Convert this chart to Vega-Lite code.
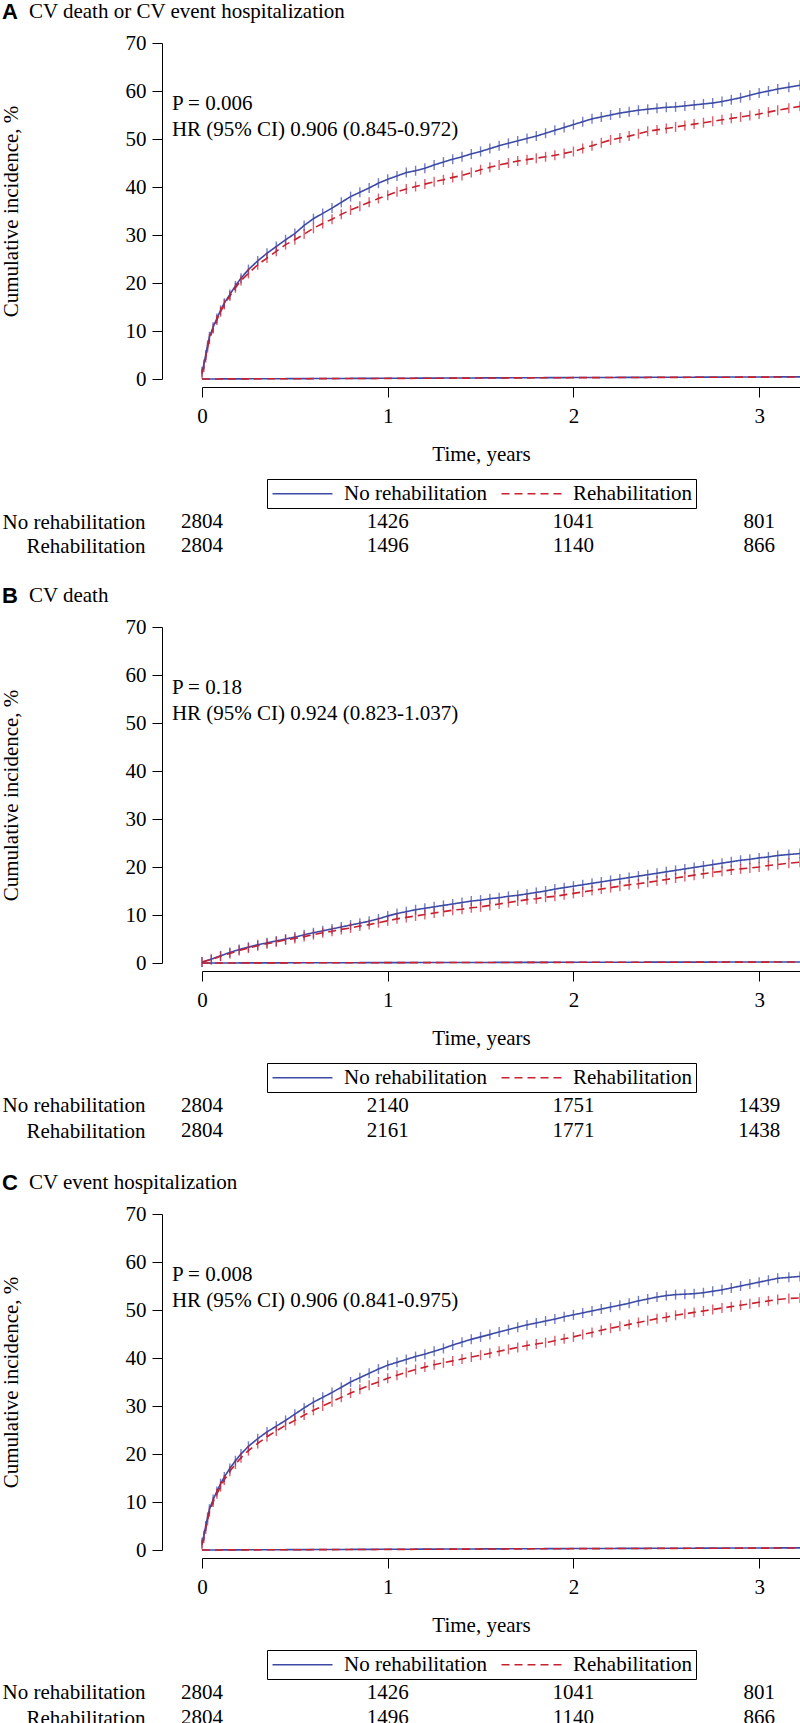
{
  "$schema": "https://vega.github.io/schema/vega-lite/v6.json",
  "padding": {"top": 0, "left": 0, "right": 0, "bottom": 0},
  "background": "white",
  "spacing": 1,
  "config": {
    "view": {"stroke": null},
    "axis": {"domainColor": "black", "tickColor": "black", "labelColor": "black", "titleColor": "black", "labelFont": "Liberation Serif", "titleFont": "Liberation Serif", "labelFontSize": 21, "titleFontSize": 21, "titleFontWeight": "normal", "grid": false, "labelFlush": false},
    "text": {"font": "Liberation Serif", "fontSize": 21, "color": "black"}
  },
  "resolve": {"scale": {"color": "independent", "strokeDash": "independent"}, "legend": {"color": "independent", "strokeDash": "independent"}},
  "datasets": {
    "notes": [
      {"p": "A", "lab": "A", "ttl": "CV death or CV event hospitalization", "pv": "P = 0.006", "hr": "HR (95% CI) 0.906 (0.845-0.972)"},
      {"p": "B", "lab": "B", "ttl": "CV death", "pv": "P = 0.18", "hr": "HR (95% CI) 0.924 (0.823-1.037)"},
      {"p": "C", "lab": "C", "ttl": "CV event hospitalization", "pv": "P = 0.008", "hr": "HR (95% CI) 0.906 (0.841-0.975)"}
    ],
    "risk": [
      {"p": "A", "g": "No rehabilitation", "t": 0, "n": "2804"},
      {"p": "A", "g": "No rehabilitation", "t": 1, "n": "1426"},
      {"p": "A", "g": "No rehabilitation", "t": 2, "n": "1041"},
      {"p": "A", "g": "No rehabilitation", "t": 3, "n": "801"},
      {"p": "A", "g": "Rehabilitation", "t": 0, "n": "2804"},
      {"p": "A", "g": "Rehabilitation", "t": 1, "n": "1496"},
      {"p": "A", "g": "Rehabilitation", "t": 2, "n": "1140"},
      {"p": "A", "g": "Rehabilitation", "t": 3, "n": "866"},
      {"p": "B", "g": "No rehabilitation", "t": 0, "n": "2804"},
      {"p": "B", "g": "No rehabilitation", "t": 1, "n": "2140"},
      {"p": "B", "g": "No rehabilitation", "t": 2, "n": "1751"},
      {"p": "B", "g": "No rehabilitation", "t": 3, "n": "1439"},
      {"p": "B", "g": "Rehabilitation", "t": 0, "n": "2804"},
      {"p": "B", "g": "Rehabilitation", "t": 1, "n": "2161"},
      {"p": "B", "g": "Rehabilitation", "t": 2, "n": "1771"},
      {"p": "B", "g": "Rehabilitation", "t": 3, "n": "1438"},
      {"p": "C", "g": "No rehabilitation", "t": 0, "n": "2804"},
      {"p": "C", "g": "No rehabilitation", "t": 1, "n": "1426"},
      {"p": "C", "g": "No rehabilitation", "t": 2, "n": "1041"},
      {"p": "C", "g": "No rehabilitation", "t": 3, "n": "801"},
      {"p": "C", "g": "Rehabilitation", "t": 0, "n": "2804"},
      {"p": "C", "g": "Rehabilitation", "t": 1, "n": "1496"},
      {"p": "C", "g": "Rehabilitation", "t": 2, "n": "1140"},
      {"p": "C", "g": "Rehabilitation", "t": 3, "n": "866"}
    ],
    "curves": [
      {"p":"A","g":"No rehabilitation","c":"base","t":0,"v":0},
      {"p":"A","g":"No rehabilitation","c":"base","t":1,"v":0.15},
      {"p":"A","g":"No rehabilitation","c":"base","t":2,"v":0.3},
      {"p":"A","g":"No rehabilitation","c":"base","t":3.22,"v":0.45},
      {"p":"A","g":"Rehabilitation","c":"base","t":0,"v":0},
      {"p":"A","g":"Rehabilitation","c":"base","t":1,"v":0.12},
      {"p":"A","g":"Rehabilitation","c":"base","t":2,"v":0.28},
      {"p":"A","g":"Rehabilitation","c":"base","t":3.22,"v":0.42},
      {"p":"B","g":"No rehabilitation","c":"base","t":0,"v":0},
      {"p":"B","g":"No rehabilitation","c":"base","t":1,"v":0.08},
      {"p":"B","g":"No rehabilitation","c":"base","t":2,"v":0.15},
      {"p":"B","g":"No rehabilitation","c":"base","t":3.22,"v":0.22},
      {"p":"B","g":"Rehabilitation","c":"base","t":0,"v":0},
      {"p":"B","g":"Rehabilitation","c":"base","t":1,"v":0.07},
      {"p":"B","g":"Rehabilitation","c":"base","t":2,"v":0.14},
      {"p":"B","g":"Rehabilitation","c":"base","t":3.22,"v":0.2},
      {"p":"C","g":"No rehabilitation","c":"base","t":0,"v":0},
      {"p":"C","g":"No rehabilitation","c":"base","t":1,"v":0.15},
      {"p":"C","g":"No rehabilitation","c":"base","t":2,"v":0.3},
      {"p":"C","g":"No rehabilitation","c":"base","t":3.22,"v":0.45},
      {"p":"C","g":"Rehabilitation","c":"base","t":0,"v":0},
      {"p":"C","g":"Rehabilitation","c":"base","t":1,"v":0.12},
      {"p":"C","g":"Rehabilitation","c":"base","t":2,"v":0.28},
      {"p":"C","g":"Rehabilitation","c":"base","t":3.22,"v":0.42},

      {"p":"A","g":"No rehabilitation","c":"main","t":0,"v":1.5},
      {"p":"A","g":"No rehabilitation","c":"main","t":0.01,"v":3.0},
      {"p":"A","g":"No rehabilitation","c":"main","t":0.02,"v":5.0},
      {"p":"A","g":"No rehabilitation","c":"main","t":0.03,"v":7.0},
      {"p":"A","g":"No rehabilitation","c":"main","t":0.04,"v":8.8},
      {"p":"A","g":"No rehabilitation","c":"main","t":0.06,"v":10.8},
      {"p":"A","g":"No rehabilitation","c":"main","t":0.08,"v":12.6},
      {"p":"A","g":"No rehabilitation","c":"main","t":0.10,"v":14.3},
      {"p":"A","g":"No rehabilitation","c":"main","t":0.12,"v":15.8},
      {"p":"A","g":"No rehabilitation","c":"main","t":0.15,"v":17.6},
      {"p":"A","g":"No rehabilitation","c":"main","t":0.18,"v":19.4},
      {"p":"A","g":"No rehabilitation","c":"main","t":0.21,"v":21.0},
      {"p":"A","g":"No rehabilitation","c":"main","t":0.25,"v":22.8},
      {"p":"A","g":"No rehabilitation","c":"main","t":0.30,"v":24.6},
      {"p":"A","g":"No rehabilitation","c":"main","t":0.35,"v":26.2},
      {"p":"A","g":"No rehabilitation","c":"main","t":0.40,"v":27.6},
      {"p":"A","g":"No rehabilitation","c":"main","t":0.45,"v":29.0},
      {"p":"A","g":"No rehabilitation","c":"main","t":0.50,"v":30.3},
      {"p":"A","g":"No rehabilitation","c":"main","t":0.55,"v":32.0},
      {"p":"A","g":"No rehabilitation","c":"main","t":0.60,"v":33.4},
      {"p":"A","g":"No rehabilitation","c":"main","t":0.65,"v":34.5},
      {"p":"A","g":"No rehabilitation","c":"main","t":0.70,"v":35.6},
      {"p":"A","g":"No rehabilitation","c":"main","t":0.75,"v":36.8},
      {"p":"A","g":"No rehabilitation","c":"main","t":0.80,"v":38.0},
      {"p":"A","g":"No rehabilitation","c":"main","t":0.85,"v":38.9},
      {"p":"A","g":"No rehabilitation","c":"main","t":0.90,"v":39.8},
      {"p":"A","g":"No rehabilitation","c":"main","t":0.95,"v":40.8},
      {"p":"A","g":"No rehabilitation","c":"main","t":1.00,"v":41.6},
      {"p":"A","g":"No rehabilitation","c":"main","t":1.05,"v":42.3},
      {"p":"A","g":"No rehabilitation","c":"main","t":1.10,"v":43.0},
      {"p":"A","g":"No rehabilitation","c":"main","t":1.15,"v":43.4},
      {"p":"A","g":"No rehabilitation","c":"main","t":1.20,"v":43.9},
      {"p":"A","g":"No rehabilitation","c":"main","t":1.25,"v":44.6},
      {"p":"A","g":"No rehabilitation","c":"main","t":1.30,"v":45.2},
      {"p":"A","g":"No rehabilitation","c":"main","t":1.35,"v":45.8},
      {"p":"A","g":"No rehabilitation","c":"main","t":1.40,"v":46.3},
      {"p":"A","g":"No rehabilitation","c":"main","t":1.45,"v":46.9},
      {"p":"A","g":"No rehabilitation","c":"main","t":1.50,"v":47.4},
      {"p":"A","g":"No rehabilitation","c":"main","t":1.55,"v":48.0},
      {"p":"A","g":"No rehabilitation","c":"main","t":1.60,"v":48.6},
      {"p":"A","g":"No rehabilitation","c":"main","t":1.65,"v":49.1},
      {"p":"A","g":"No rehabilitation","c":"main","t":1.70,"v":49.6},
      {"p":"A","g":"No rehabilitation","c":"main","t":1.75,"v":50.1},
      {"p":"A","g":"No rehabilitation","c":"main","t":1.80,"v":50.6},
      {"p":"A","g":"No rehabilitation","c":"main","t":1.85,"v":51.2},
      {"p":"A","g":"No rehabilitation","c":"main","t":1.90,"v":51.8},
      {"p":"A","g":"No rehabilitation","c":"main","t":1.95,"v":52.4},
      {"p":"A","g":"No rehabilitation","c":"main","t":2.00,"v":53.0},
      {"p":"A","g":"No rehabilitation","c":"main","t":2.05,"v":53.6},
      {"p":"A","g":"No rehabilitation","c":"main","t":2.10,"v":54.2},
      {"p":"A","g":"No rehabilitation","c":"main","t":2.15,"v":54.6},
      {"p":"A","g":"No rehabilitation","c":"main","t":2.20,"v":55.0},
      {"p":"A","g":"No rehabilitation","c":"main","t":2.25,"v":55.4},
      {"p":"A","g":"No rehabilitation","c":"main","t":2.30,"v":55.7},
      {"p":"A","g":"No rehabilitation","c":"main","t":2.35,"v":56.0},
      {"p":"A","g":"No rehabilitation","c":"main","t":2.40,"v":56.2},
      {"p":"A","g":"No rehabilitation","c":"main","t":2.45,"v":56.4},
      {"p":"A","g":"No rehabilitation","c":"main","t":2.50,"v":56.6},
      {"p":"A","g":"No rehabilitation","c":"main","t":2.55,"v":56.7},
      {"p":"A","g":"No rehabilitation","c":"main","t":2.60,"v":56.9},
      {"p":"A","g":"No rehabilitation","c":"main","t":2.65,"v":57.1},
      {"p":"A","g":"No rehabilitation","c":"main","t":2.70,"v":57.3},
      {"p":"A","g":"No rehabilitation","c":"main","t":2.75,"v":57.5},
      {"p":"A","g":"No rehabilitation","c":"main","t":2.80,"v":57.8},
      {"p":"A","g":"No rehabilitation","c":"main","t":2.85,"v":58.2},
      {"p":"A","g":"No rehabilitation","c":"main","t":2.90,"v":58.6},
      {"p":"A","g":"No rehabilitation","c":"main","t":2.95,"v":59.1},
      {"p":"A","g":"No rehabilitation","c":"main","t":3.00,"v":59.6},
      {"p":"A","g":"No rehabilitation","c":"main","t":3.05,"v":60.0},
      {"p":"A","g":"No rehabilitation","c":"main","t":3.10,"v":60.4},
      {"p":"A","g":"No rehabilitation","c":"main","t":3.16,"v":60.8},
      {"p":"A","g":"No rehabilitation","c":"main","t":3.22,"v":61.2},

      {"p":"A","g":"Rehabilitation","c":"main","t":0,"v":1.1},
      {"p":"A","g":"Rehabilitation","c":"main","t":0.01,"v":2.5},
      {"p":"A","g":"Rehabilitation","c":"main","t":0.02,"v":4.5},
      {"p":"A","g":"Rehabilitation","c":"main","t":0.03,"v":6.5},
      {"p":"A","g":"Rehabilitation","c":"main","t":0.04,"v":8.3},
      {"p":"A","g":"Rehabilitation","c":"main","t":0.06,"v":10.5},
      {"p":"A","g":"Rehabilitation","c":"main","t":0.08,"v":12.3},
      {"p":"A","g":"Rehabilitation","c":"main","t":0.10,"v":14.0},
      {"p":"A","g":"Rehabilitation","c":"main","t":0.12,"v":15.5},
      {"p":"A","g":"Rehabilitation","c":"main","t":0.15,"v":17.3},
      {"p":"A","g":"Rehabilitation","c":"main","t":0.18,"v":19.0},
      {"p":"A","g":"Rehabilitation","c":"main","t":0.21,"v":20.5},
      {"p":"A","g":"Rehabilitation","c":"main","t":0.25,"v":22.0},
      {"p":"A","g":"Rehabilitation","c":"main","t":0.30,"v":23.8},
      {"p":"A","g":"Rehabilitation","c":"main","t":0.35,"v":25.2},
      {"p":"A","g":"Rehabilitation","c":"main","t":0.40,"v":26.6},
      {"p":"A","g":"Rehabilitation","c":"main","t":0.45,"v":28.0},
      {"p":"A","g":"Rehabilitation","c":"main","t":0.50,"v":29.0},
      {"p":"A","g":"Rehabilitation","c":"main","t":0.55,"v":30.2},
      {"p":"A","g":"Rehabilitation","c":"main","t":0.60,"v":31.4},
      {"p":"A","g":"Rehabilitation","c":"main","t":0.65,"v":32.4},
      {"p":"A","g":"Rehabilitation","c":"main","t":0.70,"v":33.3},
      {"p":"A","g":"Rehabilitation","c":"main","t":0.75,"v":34.3},
      {"p":"A","g":"Rehabilitation","c":"main","t":0.80,"v":35.2},
      {"p":"A","g":"Rehabilitation","c":"main","t":0.85,"v":36.0},
      {"p":"A","g":"Rehabilitation","c":"main","t":0.90,"v":36.8},
      {"p":"A","g":"Rehabilitation","c":"main","t":0.95,"v":37.6},
      {"p":"A","g":"Rehabilitation","c":"main","t":1.00,"v":38.3},
      {"p":"A","g":"Rehabilitation","c":"main","t":1.05,"v":39.0},
      {"p":"A","g":"Rehabilitation","c":"main","t":1.10,"v":39.6},
      {"p":"A","g":"Rehabilitation","c":"main","t":1.15,"v":40.1},
      {"p":"A","g":"Rehabilitation","c":"main","t":1.20,"v":40.6},
      {"p":"A","g":"Rehabilitation","c":"main","t":1.25,"v":41.1},
      {"p":"A","g":"Rehabilitation","c":"main","t":1.30,"v":41.5},
      {"p":"A","g":"Rehabilitation","c":"main","t":1.35,"v":42.0},
      {"p":"A","g":"Rehabilitation","c":"main","t":1.40,"v":42.4},
      {"p":"A","g":"Rehabilitation","c":"main","t":1.45,"v":43.0},
      {"p":"A","g":"Rehabilitation","c":"main","t":1.50,"v":43.6},
      {"p":"A","g":"Rehabilitation","c":"main","t":1.55,"v":44.1},
      {"p":"A","g":"Rehabilitation","c":"main","t":1.60,"v":44.6},
      {"p":"A","g":"Rehabilitation","c":"main","t":1.65,"v":45.0},
      {"p":"A","g":"Rehabilitation","c":"main","t":1.70,"v":45.4},
      {"p":"A","g":"Rehabilitation","c":"main","t":1.75,"v":45.7},
      {"p":"A","g":"Rehabilitation","c":"main","t":1.80,"v":46.0},
      {"p":"A","g":"Rehabilitation","c":"main","t":1.85,"v":46.3},
      {"p":"A","g":"Rehabilitation","c":"main","t":1.90,"v":46.6},
      {"p":"A","g":"Rehabilitation","c":"main","t":1.95,"v":47.0},
      {"p":"A","g":"Rehabilitation","c":"main","t":2.00,"v":47.4},
      {"p":"A","g":"Rehabilitation","c":"main","t":2.05,"v":48.0},
      {"p":"A","g":"Rehabilitation","c":"main","t":2.10,"v":48.6},
      {"p":"A","g":"Rehabilitation","c":"main","t":2.15,"v":49.2},
      {"p":"A","g":"Rehabilitation","c":"main","t":2.20,"v":49.8},
      {"p":"A","g":"Rehabilitation","c":"main","t":2.25,"v":50.2},
      {"p":"A","g":"Rehabilitation","c":"main","t":2.30,"v":50.6},
      {"p":"A","g":"Rehabilitation","c":"main","t":2.35,"v":51.1},
      {"p":"A","g":"Rehabilitation","c":"main","t":2.40,"v":51.6},
      {"p":"A","g":"Rehabilitation","c":"main","t":2.45,"v":51.9},
      {"p":"A","g":"Rehabilitation","c":"main","t":2.50,"v":52.2},
      {"p":"A","g":"Rehabilitation","c":"main","t":2.55,"v":52.5},
      {"p":"A","g":"Rehabilitation","c":"main","t":2.60,"v":52.8},
      {"p":"A","g":"Rehabilitation","c":"main","t":2.65,"v":53.1},
      {"p":"A","g":"Rehabilitation","c":"main","t":2.70,"v":53.4},
      {"p":"A","g":"Rehabilitation","c":"main","t":2.75,"v":53.7},
      {"p":"A","g":"Rehabilitation","c":"main","t":2.80,"v":54.0},
      {"p":"A","g":"Rehabilitation","c":"main","t":2.85,"v":54.3},
      {"p":"A","g":"Rehabilitation","c":"main","t":2.90,"v":54.6},
      {"p":"A","g":"Rehabilitation","c":"main","t":2.95,"v":54.9},
      {"p":"A","g":"Rehabilitation","c":"main","t":3.00,"v":55.2},
      {"p":"A","g":"Rehabilitation","c":"main","t":3.05,"v":55.6},
      {"p":"A","g":"Rehabilitation","c":"main","t":3.10,"v":56.0},
      {"p":"A","g":"Rehabilitation","c":"main","t":3.16,"v":56.4},
      {"p":"A","g":"Rehabilitation","c":"main","t":3.22,"v":56.8},

      {"p":"B","g":"No rehabilitation","c":"main","t":0,"v":0.2},
      {"p":"B","g":"No rehabilitation","c":"main","t":0.05,"v":0.8},
      {"p":"B","g":"No rehabilitation","c":"main","t":0.10,"v":1.5},
      {"p":"B","g":"No rehabilitation","c":"main","t":0.15,"v":2.2},
      {"p":"B","g":"No rehabilitation","c":"main","t":0.20,"v":2.8},
      {"p":"B","g":"No rehabilitation","c":"main","t":0.25,"v":3.3},
      {"p":"B","g":"No rehabilitation","c":"main","t":0.30,"v":3.8},
      {"p":"B","g":"No rehabilitation","c":"main","t":0.35,"v":4.2},
      {"p":"B","g":"No rehabilitation","c":"main","t":0.40,"v":4.6},
      {"p":"B","g":"No rehabilitation","c":"main","t":0.45,"v":5.0},
      {"p":"B","g":"No rehabilitation","c":"main","t":0.50,"v":5.4},
      {"p":"B","g":"No rehabilitation","c":"main","t":0.55,"v":5.9},
      {"p":"B","g":"No rehabilitation","c":"main","t":0.60,"v":6.3},
      {"p":"B","g":"No rehabilitation","c":"main","t":0.65,"v":6.7},
      {"p":"B","g":"No rehabilitation","c":"main","t":0.70,"v":7.1},
      {"p":"B","g":"No rehabilitation","c":"main","t":0.75,"v":7.5},
      {"p":"B","g":"No rehabilitation","c":"main","t":0.80,"v":7.9},
      {"p":"B","g":"No rehabilitation","c":"main","t":0.85,"v":8.3},
      {"p":"B","g":"No rehabilitation","c":"main","t":0.90,"v":8.7},
      {"p":"B","g":"No rehabilitation","c":"main","t":0.95,"v":9.2},
      {"p":"B","g":"No rehabilitation","c":"main","t":1.00,"v":9.8},
      {"p":"B","g":"No rehabilitation","c":"main","t":1.05,"v":10.3},
      {"p":"B","g":"No rehabilitation","c":"main","t":1.10,"v":10.7},
      {"p":"B","g":"No rehabilitation","c":"main","t":1.15,"v":11.1},
      {"p":"B","g":"No rehabilitation","c":"main","t":1.20,"v":11.4},
      {"p":"B","g":"No rehabilitation","c":"main","t":1.25,"v":11.7},
      {"p":"B","g":"No rehabilitation","c":"main","t":1.30,"v":12.0},
      {"p":"B","g":"No rehabilitation","c":"main","t":1.35,"v":12.3},
      {"p":"B","g":"No rehabilitation","c":"main","t":1.40,"v":12.6},
      {"p":"B","g":"No rehabilitation","c":"main","t":1.45,"v":12.9},
      {"p":"B","g":"No rehabilitation","c":"main","t":1.50,"v":13.1},
      {"p":"B","g":"No rehabilitation","c":"main","t":1.55,"v":13.4},
      {"p":"B","g":"No rehabilitation","c":"main","t":1.60,"v":13.6},
      {"p":"B","g":"No rehabilitation","c":"main","t":1.65,"v":13.9},
      {"p":"B","g":"No rehabilitation","c":"main","t":1.70,"v":14.1},
      {"p":"B","g":"No rehabilitation","c":"main","t":1.75,"v":14.4},
      {"p":"B","g":"No rehabilitation","c":"main","t":1.80,"v":14.7},
      {"p":"B","g":"No rehabilitation","c":"main","t":1.85,"v":15.0},
      {"p":"B","g":"No rehabilitation","c":"main","t":1.90,"v":15.4},
      {"p":"B","g":"No rehabilitation","c":"main","t":1.95,"v":15.7},
      {"p":"B","g":"No rehabilitation","c":"main","t":2.00,"v":16.0},
      {"p":"B","g":"No rehabilitation","c":"main","t":2.05,"v":16.3},
      {"p":"B","g":"No rehabilitation","c":"main","t":2.10,"v":16.6},
      {"p":"B","g":"No rehabilitation","c":"main","t":2.15,"v":16.9},
      {"p":"B","g":"No rehabilitation","c":"main","t":2.20,"v":17.2},
      {"p":"B","g":"No rehabilitation","c":"main","t":2.25,"v":17.5},
      {"p":"B","g":"No rehabilitation","c":"main","t":2.30,"v":17.8},
      {"p":"B","g":"No rehabilitation","c":"main","t":2.35,"v":18.1},
      {"p":"B","g":"No rehabilitation","c":"main","t":2.40,"v":18.4},
      {"p":"B","g":"No rehabilitation","c":"main","t":2.45,"v":18.7},
      {"p":"B","g":"No rehabilitation","c":"main","t":2.50,"v":19.0},
      {"p":"B","g":"No rehabilitation","c":"main","t":2.55,"v":19.3},
      {"p":"B","g":"No rehabilitation","c":"main","t":2.60,"v":19.6},
      {"p":"B","g":"No rehabilitation","c":"main","t":2.65,"v":19.9},
      {"p":"B","g":"No rehabilitation","c":"main","t":2.70,"v":20.2},
      {"p":"B","g":"No rehabilitation","c":"main","t":2.75,"v":20.5},
      {"p":"B","g":"No rehabilitation","c":"main","t":2.80,"v":20.8},
      {"p":"B","g":"No rehabilitation","c":"main","t":2.85,"v":21.1},
      {"p":"B","g":"No rehabilitation","c":"main","t":2.90,"v":21.4},
      {"p":"B","g":"No rehabilitation","c":"main","t":2.95,"v":21.6},
      {"p":"B","g":"No rehabilitation","c":"main","t":3.00,"v":21.9},
      {"p":"B","g":"No rehabilitation","c":"main","t":3.05,"v":22.1},
      {"p":"B","g":"No rehabilitation","c":"main","t":3.10,"v":22.4},
      {"p":"B","g":"No rehabilitation","c":"main","t":3.16,"v":22.6},
      {"p":"B","g":"No rehabilitation","c":"main","t":3.22,"v":22.8},

      {"p":"B","g":"Rehabilitation","c":"main","t":0,"v":0.2},
      {"p":"B","g":"Rehabilitation","c":"main","t":0.05,"v":0.7},
      {"p":"B","g":"Rehabilitation","c":"main","t":0.10,"v":1.4},
      {"p":"B","g":"Rehabilitation","c":"main","t":0.15,"v":2.0},
      {"p":"B","g":"Rehabilitation","c":"main","t":0.20,"v":2.6},
      {"p":"B","g":"Rehabilitation","c":"main","t":0.25,"v":3.1},
      {"p":"B","g":"Rehabilitation","c":"main","t":0.30,"v":3.6},
      {"p":"B","g":"Rehabilitation","c":"main","t":0.35,"v":4.0},
      {"p":"B","g":"Rehabilitation","c":"main","t":0.40,"v":4.4},
      {"p":"B","g":"Rehabilitation","c":"main","t":0.45,"v":4.8},
      {"p":"B","g":"Rehabilitation","c":"main","t":0.50,"v":5.1},
      {"p":"B","g":"Rehabilitation","c":"main","t":0.55,"v":5.5},
      {"p":"B","g":"Rehabilitation","c":"main","t":0.60,"v":5.9},
      {"p":"B","g":"Rehabilitation","c":"main","t":0.65,"v":6.3},
      {"p":"B","g":"Rehabilitation","c":"main","t":0.70,"v":6.6},
      {"p":"B","g":"Rehabilitation","c":"main","t":0.75,"v":7.0},
      {"p":"B","g":"Rehabilitation","c":"main","t":0.80,"v":7.3},
      {"p":"B","g":"Rehabilitation","c":"main","t":0.85,"v":7.7},
      {"p":"B","g":"Rehabilitation","c":"main","t":0.90,"v":8.0},
      {"p":"B","g":"Rehabilitation","c":"main","t":0.95,"v":8.4},
      {"p":"B","g":"Rehabilitation","c":"main","t":1.00,"v":8.8},
      {"p":"B","g":"Rehabilitation","c":"main","t":1.05,"v":9.2},
      {"p":"B","g":"Rehabilitation","c":"main","t":1.10,"v":9.5},
      {"p":"B","g":"Rehabilitation","c":"main","t":1.15,"v":9.8},
      {"p":"B","g":"Rehabilitation","c":"main","t":1.20,"v":10.1},
      {"p":"B","g":"Rehabilitation","c":"main","t":1.25,"v":10.4},
      {"p":"B","g":"Rehabilitation","c":"main","t":1.30,"v":10.7},
      {"p":"B","g":"Rehabilitation","c":"main","t":1.35,"v":11.0},
      {"p":"B","g":"Rehabilitation","c":"main","t":1.40,"v":11.2},
      {"p":"B","g":"Rehabilitation","c":"main","t":1.45,"v":11.5},
      {"p":"B","g":"Rehabilitation","c":"main","t":1.50,"v":11.7},
      {"p":"B","g":"Rehabilitation","c":"main","t":1.55,"v":12.0},
      {"p":"B","g":"Rehabilitation","c":"main","t":1.60,"v":12.3},
      {"p":"B","g":"Rehabilitation","c":"main","t":1.65,"v":12.6},
      {"p":"B","g":"Rehabilitation","c":"main","t":1.70,"v":12.9},
      {"p":"B","g":"Rehabilitation","c":"main","t":1.75,"v":13.2},
      {"p":"B","g":"Rehabilitation","c":"main","t":1.80,"v":13.4},
      {"p":"B","g":"Rehabilitation","c":"main","t":1.85,"v":13.7},
      {"p":"B","g":"Rehabilitation","c":"main","t":1.90,"v":13.9},
      {"p":"B","g":"Rehabilitation","c":"main","t":1.95,"v":14.2},
      {"p":"B","g":"Rehabilitation","c":"main","t":2.00,"v":14.5},
      {"p":"B","g":"Rehabilitation","c":"main","t":2.05,"v":14.8},
      {"p":"B","g":"Rehabilitation","c":"main","t":2.10,"v":15.1},
      {"p":"B","g":"Rehabilitation","c":"main","t":2.15,"v":15.4},
      {"p":"B","g":"Rehabilitation","c":"main","t":2.20,"v":15.7},
      {"p":"B","g":"Rehabilitation","c":"main","t":2.25,"v":16.0},
      {"p":"B","g":"Rehabilitation","c":"main","t":2.30,"v":16.3},
      {"p":"B","g":"Rehabilitation","c":"main","t":2.35,"v":16.5},
      {"p":"B","g":"Rehabilitation","c":"main","t":2.40,"v":16.8},
      {"p":"B","g":"Rehabilitation","c":"main","t":2.45,"v":17.1},
      {"p":"B","g":"Rehabilitation","c":"main","t":2.50,"v":17.4},
      {"p":"B","g":"Rehabilitation","c":"main","t":2.55,"v":17.7},
      {"p":"B","g":"Rehabilitation","c":"main","t":2.60,"v":18.0},
      {"p":"B","g":"Rehabilitation","c":"main","t":2.65,"v":18.3},
      {"p":"B","g":"Rehabilitation","c":"main","t":2.70,"v":18.6},
      {"p":"B","g":"Rehabilitation","c":"main","t":2.75,"v":18.9},
      {"p":"B","g":"Rehabilitation","c":"main","t":2.80,"v":19.1},
      {"p":"B","g":"Rehabilitation","c":"main","t":2.85,"v":19.4},
      {"p":"B","g":"Rehabilitation","c":"main","t":2.90,"v":19.6},
      {"p":"B","g":"Rehabilitation","c":"main","t":2.95,"v":19.8},
      {"p":"B","g":"Rehabilitation","c":"main","t":3.00,"v":20.0},
      {"p":"B","g":"Rehabilitation","c":"main","t":3.05,"v":20.3},
      {"p":"B","g":"Rehabilitation","c":"main","t":3.10,"v":20.5},
      {"p":"B","g":"Rehabilitation","c":"main","t":3.16,"v":20.8},
      {"p":"B","g":"Rehabilitation","c":"main","t":3.22,"v":21.0},

      {"p":"C","g":"No rehabilitation","c":"main","t":0,"v":1.5},
      {"p":"C","g":"No rehabilitation","c":"main","t":0.01,"v":3.0},
      {"p":"C","g":"No rehabilitation","c":"main","t":0.02,"v":5.0},
      {"p":"C","g":"No rehabilitation","c":"main","t":0.03,"v":6.8},
      {"p":"C","g":"No rehabilitation","c":"main","t":0.04,"v":8.5},
      {"p":"C","g":"No rehabilitation","c":"main","t":0.06,"v":10.5},
      {"p":"C","g":"No rehabilitation","c":"main","t":0.08,"v":12.2},
      {"p":"C","g":"No rehabilitation","c":"main","t":0.10,"v":13.8},
      {"p":"C","g":"No rehabilitation","c":"main","t":0.12,"v":15.2},
      {"p":"C","g":"No rehabilitation","c":"main","t":0.15,"v":17.0},
      {"p":"C","g":"No rehabilitation","c":"main","t":0.18,"v":18.6},
      {"p":"C","g":"No rehabilitation","c":"main","t":0.21,"v":20.0},
      {"p":"C","g":"No rehabilitation","c":"main","t":0.25,"v":21.6},
      {"p":"C","g":"No rehabilitation","c":"main","t":0.30,"v":23.2},
      {"p":"C","g":"No rehabilitation","c":"main","t":0.35,"v":24.6},
      {"p":"C","g":"No rehabilitation","c":"main","t":0.40,"v":25.8},
      {"p":"C","g":"No rehabilitation","c":"main","t":0.45,"v":27.0},
      {"p":"C","g":"No rehabilitation","c":"main","t":0.50,"v":28.3},
      {"p":"C","g":"No rehabilitation","c":"main","t":0.55,"v":29.6},
      {"p":"C","g":"No rehabilitation","c":"main","t":0.60,"v":30.8},
      {"p":"C","g":"No rehabilitation","c":"main","t":0.65,"v":31.8},
      {"p":"C","g":"No rehabilitation","c":"main","t":0.70,"v":32.8},
      {"p":"C","g":"No rehabilitation","c":"main","t":0.75,"v":33.9},
      {"p":"C","g":"No rehabilitation","c":"main","t":0.80,"v":35.0},
      {"p":"C","g":"No rehabilitation","c":"main","t":0.85,"v":35.9},
      {"p":"C","g":"No rehabilitation","c":"main","t":0.90,"v":36.8},
      {"p":"C","g":"No rehabilitation","c":"main","t":0.95,"v":37.7},
      {"p":"C","g":"No rehabilitation","c":"main","t":1.00,"v":38.5},
      {"p":"C","g":"No rehabilitation","c":"main","t":1.05,"v":39.1},
      {"p":"C","g":"No rehabilitation","c":"main","t":1.10,"v":39.7},
      {"p":"C","g":"No rehabilitation","c":"main","t":1.15,"v":40.3},
      {"p":"C","g":"No rehabilitation","c":"main","t":1.20,"v":40.8},
      {"p":"C","g":"No rehabilitation","c":"main","t":1.25,"v":41.4},
      {"p":"C","g":"No rehabilitation","c":"main","t":1.30,"v":42.0},
      {"p":"C","g":"No rehabilitation","c":"main","t":1.35,"v":42.7},
      {"p":"C","g":"No rehabilitation","c":"main","t":1.40,"v":43.3},
      {"p":"C","g":"No rehabilitation","c":"main","t":1.45,"v":43.9},
      {"p":"C","g":"No rehabilitation","c":"main","t":1.50,"v":44.4},
      {"p":"C","g":"No rehabilitation","c":"main","t":1.55,"v":44.9},
      {"p":"C","g":"No rehabilitation","c":"main","t":1.60,"v":45.4},
      {"p":"C","g":"No rehabilitation","c":"main","t":1.65,"v":45.9},
      {"p":"C","g":"No rehabilitation","c":"main","t":1.70,"v":46.4},
      {"p":"C","g":"No rehabilitation","c":"main","t":1.75,"v":46.9},
      {"p":"C","g":"No rehabilitation","c":"main","t":1.80,"v":47.3},
      {"p":"C","g":"No rehabilitation","c":"main","t":1.85,"v":47.7},
      {"p":"C","g":"No rehabilitation","c":"main","t":1.90,"v":48.1},
      {"p":"C","g":"No rehabilitation","c":"main","t":1.95,"v":48.6},
      {"p":"C","g":"No rehabilitation","c":"main","t":2.00,"v":49.0},
      {"p":"C","g":"No rehabilitation","c":"main","t":2.05,"v":49.4},
      {"p":"C","g":"No rehabilitation","c":"main","t":2.10,"v":49.8},
      {"p":"C","g":"No rehabilitation","c":"main","t":2.15,"v":50.2},
      {"p":"C","g":"No rehabilitation","c":"main","t":2.20,"v":50.6},
      {"p":"C","g":"No rehabilitation","c":"main","t":2.25,"v":51.0},
      {"p":"C","g":"No rehabilitation","c":"main","t":2.30,"v":51.4},
      {"p":"C","g":"No rehabilitation","c":"main","t":2.35,"v":51.9},
      {"p":"C","g":"No rehabilitation","c":"main","t":2.40,"v":52.3},
      {"p":"C","g":"No rehabilitation","c":"main","t":2.45,"v":52.7},
      {"p":"C","g":"No rehabilitation","c":"main","t":2.50,"v":53.0},
      {"p":"C","g":"No rehabilitation","c":"main","t":2.55,"v":53.2},
      {"p":"C","g":"No rehabilitation","c":"main","t":2.60,"v":53.3},
      {"p":"C","g":"No rehabilitation","c":"main","t":2.65,"v":53.4},
      {"p":"C","g":"No rehabilitation","c":"main","t":2.70,"v":53.6},
      {"p":"C","g":"No rehabilitation","c":"main","t":2.75,"v":53.9},
      {"p":"C","g":"No rehabilitation","c":"main","t":2.80,"v":54.2},
      {"p":"C","g":"No rehabilitation","c":"main","t":2.85,"v":54.6},
      {"p":"C","g":"No rehabilitation","c":"main","t":2.90,"v":55.0},
      {"p":"C","g":"No rehabilitation","c":"main","t":2.95,"v":55.4},
      {"p":"C","g":"No rehabilitation","c":"main","t":3.00,"v":55.8},
      {"p":"C","g":"No rehabilitation","c":"main","t":3.05,"v":56.2},
      {"p":"C","g":"No rehabilitation","c":"main","t":3.10,"v":56.6},
      {"p":"C","g":"No rehabilitation","c":"main","t":3.16,"v":56.8},
      {"p":"C","g":"No rehabilitation","c":"main","t":3.22,"v":57.0},

      {"p":"C","g":"Rehabilitation","c":"main","t":0,"v":1.1},
      {"p":"C","g":"Rehabilitation","c":"main","t":0.01,"v":2.5},
      {"p":"C","g":"Rehabilitation","c":"main","t":0.02,"v":4.4},
      {"p":"C","g":"Rehabilitation","c":"main","t":0.03,"v":6.2},
      {"p":"C","g":"Rehabilitation","c":"main","t":0.04,"v":8.0},
      {"p":"C","g":"Rehabilitation","c":"main","t":0.06,"v":10.0},
      {"p":"C","g":"Rehabilitation","c":"main","t":0.08,"v":11.7},
      {"p":"C","g":"Rehabilitation","c":"main","t":0.10,"v":13.2},
      {"p":"C","g":"Rehabilitation","c":"main","t":0.12,"v":14.6},
      {"p":"C","g":"Rehabilitation","c":"main","t":0.15,"v":16.4},
      {"p":"C","g":"Rehabilitation","c":"main","t":0.18,"v":17.9},
      {"p":"C","g":"Rehabilitation","c":"main","t":0.21,"v":19.2},
      {"p":"C","g":"Rehabilitation","c":"main","t":0.25,"v":20.7},
      {"p":"C","g":"Rehabilitation","c":"main","t":0.30,"v":22.2},
      {"p":"C","g":"Rehabilitation","c":"main","t":0.35,"v":23.6},
      {"p":"C","g":"Rehabilitation","c":"main","t":0.40,"v":24.8},
      {"p":"C","g":"Rehabilitation","c":"main","t":0.45,"v":26.0},
      {"p":"C","g":"Rehabilitation","c":"main","t":0.50,"v":27.0},
      {"p":"C","g":"Rehabilitation","c":"main","t":0.55,"v":28.1},
      {"p":"C","g":"Rehabilitation","c":"main","t":0.60,"v":29.1},
      {"p":"C","g":"Rehabilitation","c":"main","t":0.65,"v":30.0},
      {"p":"C","g":"Rehabilitation","c":"main","t":0.70,"v":30.9},
      {"p":"C","g":"Rehabilitation","c":"main","t":0.75,"v":31.8},
      {"p":"C","g":"Rehabilitation","c":"main","t":0.80,"v":32.7},
      {"p":"C","g":"Rehabilitation","c":"main","t":0.85,"v":33.5},
      {"p":"C","g":"Rehabilitation","c":"main","t":0.90,"v":34.3},
      {"p":"C","g":"Rehabilitation","c":"main","t":0.95,"v":35.0},
      {"p":"C","g":"Rehabilitation","c":"main","t":1.00,"v":35.8},
      {"p":"C","g":"Rehabilitation","c":"main","t":1.05,"v":36.4},
      {"p":"C","g":"Rehabilitation","c":"main","t":1.10,"v":37.0},
      {"p":"C","g":"Rehabilitation","c":"main","t":1.15,"v":37.6},
      {"p":"C","g":"Rehabilitation","c":"main","t":1.20,"v":38.1},
      {"p":"C","g":"Rehabilitation","c":"main","t":1.25,"v":38.6},
      {"p":"C","g":"Rehabilitation","c":"main","t":1.30,"v":39.0},
      {"p":"C","g":"Rehabilitation","c":"main","t":1.35,"v":39.4},
      {"p":"C","g":"Rehabilitation","c":"main","t":1.40,"v":39.8},
      {"p":"C","g":"Rehabilitation","c":"main","t":1.45,"v":40.2},
      {"p":"C","g":"Rehabilitation","c":"main","t":1.50,"v":40.6},
      {"p":"C","g":"Rehabilitation","c":"main","t":1.55,"v":41.0},
      {"p":"C","g":"Rehabilitation","c":"main","t":1.60,"v":41.4},
      {"p":"C","g":"Rehabilitation","c":"main","t":1.65,"v":41.8},
      {"p":"C","g":"Rehabilitation","c":"main","t":1.70,"v":42.2},
      {"p":"C","g":"Rehabilitation","c":"main","t":1.75,"v":42.6},
      {"p":"C","g":"Rehabilitation","c":"main","t":1.80,"v":42.9},
      {"p":"C","g":"Rehabilitation","c":"main","t":1.85,"v":43.2},
      {"p":"C","g":"Rehabilitation","c":"main","t":1.90,"v":43.6},
      {"p":"C","g":"Rehabilitation","c":"main","t":1.95,"v":44.0},
      {"p":"C","g":"Rehabilitation","c":"main","t":2.00,"v":44.4},
      {"p":"C","g":"Rehabilitation","c":"main","t":2.05,"v":44.9},
      {"p":"C","g":"Rehabilitation","c":"main","t":2.10,"v":45.3},
      {"p":"C","g":"Rehabilitation","c":"main","t":2.15,"v":45.8},
      {"p":"C","g":"Rehabilitation","c":"main","t":2.20,"v":46.2},
      {"p":"C","g":"Rehabilitation","c":"main","t":2.25,"v":46.6},
      {"p":"C","g":"Rehabilitation","c":"main","t":2.30,"v":47.0},
      {"p":"C","g":"Rehabilitation","c":"main","t":2.35,"v":47.4},
      {"p":"C","g":"Rehabilitation","c":"main","t":2.40,"v":47.8},
      {"p":"C","g":"Rehabilitation","c":"main","t":2.45,"v":48.2},
      {"p":"C","g":"Rehabilitation","c":"main","t":2.50,"v":48.5},
      {"p":"C","g":"Rehabilitation","c":"main","t":2.55,"v":48.9},
      {"p":"C","g":"Rehabilitation","c":"main","t":2.60,"v":49.2},
      {"p":"C","g":"Rehabilitation","c":"main","t":2.65,"v":49.5},
      {"p":"C","g":"Rehabilitation","c":"main","t":2.70,"v":49.8},
      {"p":"C","g":"Rehabilitation","c":"main","t":2.75,"v":50.1},
      {"p":"C","g":"Rehabilitation","c":"main","t":2.80,"v":50.4},
      {"p":"C","g":"Rehabilitation","c":"main","t":2.85,"v":50.7},
      {"p":"C","g":"Rehabilitation","c":"main","t":2.90,"v":51.0},
      {"p":"C","g":"Rehabilitation","c":"main","t":2.95,"v":51.3},
      {"p":"C","g":"Rehabilitation","c":"main","t":3.00,"v":51.6},
      {"p":"C","g":"Rehabilitation","c":"main","t":3.05,"v":51.9},
      {"p":"C","g":"Rehabilitation","c":"main","t":3.10,"v":52.2},
      {"p":"C","g":"Rehabilitation","c":"main","t":3.16,"v":52.4},
      {"p":"C","g":"Rehabilitation","c":"main","t":3.22,"v":52.5}
    ]
  },
  "vconcat": [
    {
      "width": 598, "height": 336,
      "layer": [
        {
          "data": {"name": "curves"},
          "transform": [{"filter": "datum.p == 'A'"}],
          "mark": {"type": "line", "strokeWidth": 1.6},
          "encoding": {
            "x": {"field": "t", "type": "quantitative", "scale": {"domain": [0, 3.22], "nice": false, "zero": false}, "axis": {"values": [0, 1, 2, 3], "format": "d", "offset": 8, "tickSize": 10, "labelPadding": 8, "title": "Time, years", "titlePadding": 17, "titleX": 279}},
            "y": {"field": "v", "type": "quantitative", "scale": {"domain": [0, 70], "nice": false}, "axis": {"values": [0, 10, 20, 30, 40, 50, 60, 70], "format": "d", "offset": 40, "tickSize": 10, "labelPadding": 6, "title": "Cumulative incidence, %", "titlePadding": 104}},
            "color": {"field": "g", "type": "nominal", "scale": {"domain": ["No rehabilitation", "Rehabilitation"], "range": ["#3c4aa6", "#c8202e"]}, "legend": {"orient": "none", "legendX": 65, "legendY": 436, "direction": "horizontal", "title": null, "strokeColor": "black", "padding": 4, "symbolType": "M-9,0H51", "symbolSize": 4, "symbolStrokeWidth": 1.5, "labelOffset": 52, "labelFont": "Liberation Serif", "labelFontSize": 21, "labelColor": "black", "labelLimit": 300, "columnPadding": 11}},
            "strokeDash": {"field": "g", "type": "nominal", "scale": {"domain": ["No rehabilitation", "Rehabilitation"], "range": [[1, 0], [8, 5]]}, "legend": {"orient": "none", "legendX": 65, "legendY": 436, "direction": "horizontal", "title": null, "strokeColor": "black", "padding": 4, "symbolType": "M-9,0H51", "symbolSize": 4, "symbolStrokeWidth": 1.5, "labelOffset": 52, "labelFont": "Liberation Serif", "labelFontSize": 21, "labelColor": "black", "labelLimit": 300, "columnPadding": 11}},
            "detail": {"field": "c"}
          }
        },
        {
          "data": {"name": "curves"},
          "transform": [{"filter": "datum.p == 'A' && datum.c == 'main'"}],
          "mark": {"type": "tick", "orient": "vertical", "size": 10, "thickness": 1.4},
          "encoding": {
            "x": {"field": "t", "type": "quantitative"},
            "y": {"field": "v", "type": "quantitative"},
            "color": {"field": "g", "type": "nominal", "legend": null}
          }
        },
        {
          "data": {"name": "notes"},
          "transform": [{"filter": "datum.p == 'A'"}],
          "mark": {"type": "text", "align": "left", "baseline": "middle"},
          "encoding": {"x": {"datum": -0.162}, "y": {"datum": 57.3}, "text": {"field": "pv"}}
        },
        {
          "data": {"name": "notes"},
          "transform": [{"filter": "datum.p == 'A'"}],
          "mark": {"type": "text", "align": "left", "baseline": "middle"},
          "encoding": {"x": {"datum": -0.162}, "y": {"datum": 51.9}, "text": {"field": "hr"}}
        },
        {
          "data": {"name": "notes"},
          "transform": [{"filter": "datum.p == 'A'"}],
          "mark": {"type": "text", "align": "left", "baseline": "middle", "font": "Liberation Sans", "fontWeight": "bold", "fontSize": 22},
          "encoding": {"x": {"datum": -1.077}, "y": {"datum": 76.5}, "text": {"field": "lab"}}
        },
        {
          "data": {"name": "notes"},
          "transform": [{"filter": "datum.p == 'A'"}],
          "mark": {"type": "text", "align": "left", "baseline": "middle"},
          "encoding": {"x": {"datum": -0.932}, "y": {"datum": 76.5}, "text": {"field": "ttl"}}
        }
      ]
    },
    {
      "width": 598, "height": 72.8,
      "data": {"name": "risk"},
      "transform": [{"filter": "datum.p == 'A'"}],
      "mark": {"type": "text", "baseline": "middle"},
      "encoding": {
        "x": {"field": "t", "type": "quantitative", "scale": {"domain": [0, 3.22], "nice": false, "zero": false}, "axis": null},
        "y": {"field": "g", "type": "nominal", "sort": ["No rehabilitation", "Rehabilitation"], "scale": {"type": "point", "padding": 0.998, "align": 0.2505}, "axis": {"title": null, "ticks": false, "domain": false, "labelPadding": 57}},
        "text": {"field": "n"}
      }
    },
    {
      "width": 598, "height": 336,
      "layer": [
        {
          "data": {"name": "curves"},
          "transform": [{"filter": "datum.p == 'B'"}],
          "mark": {"type": "line", "strokeWidth": 1.6},
          "encoding": {
            "x": {"field": "t", "type": "quantitative", "scale": {"domain": [0, 3.22], "nice": false, "zero": false}, "axis": {"values": [0, 1, 2, 3], "format": "d", "offset": 8, "tickSize": 10, "labelPadding": 8, "title": "Time, years", "titlePadding": 17, "titleX": 279}},
            "y": {"field": "v", "type": "quantitative", "scale": {"domain": [0, 70], "nice": false}, "axis": {"values": [0, 10, 20, 30, 40, 50, 60, 70], "format": "d", "offset": 40, "tickSize": 10, "labelPadding": 6, "title": "Cumulative incidence, %", "titlePadding": 104}},
            "color": {"field": "g", "type": "nominal", "scale": {"domain": ["No rehabilitation", "Rehabilitation"], "range": ["#3c4aa6", "#c8202e"]}, "legend": {"orient": "none", "legendX": 65, "legendY": 436, "direction": "horizontal", "title": null, "strokeColor": "black", "padding": 4, "symbolType": "M-9,0H51", "symbolSize": 4, "symbolStrokeWidth": 1.5, "labelOffset": 52, "labelFont": "Liberation Serif", "labelFontSize": 21, "labelColor": "black", "labelLimit": 300, "columnPadding": 11}},
            "strokeDash": {"field": "g", "type": "nominal", "scale": {"domain": ["No rehabilitation", "Rehabilitation"], "range": [[1, 0], [8, 5]]}, "legend": {"orient": "none", "legendX": 65, "legendY": 436, "direction": "horizontal", "title": null, "strokeColor": "black", "padding": 4, "symbolType": "M-9,0H51", "symbolSize": 4, "symbolStrokeWidth": 1.5, "labelOffset": 52, "labelFont": "Liberation Serif", "labelFontSize": 21, "labelColor": "black", "labelLimit": 300, "columnPadding": 11}},
            "detail": {"field": "c"}
          }
        },
        {
          "data": {"name": "curves"},
          "transform": [{"filter": "datum.p == 'B' && datum.c == 'main'"}],
          "mark": {"type": "tick", "orient": "vertical", "size": 10, "thickness": 1.4},
          "encoding": {
            "x": {"field": "t", "type": "quantitative"},
            "y": {"field": "v", "type": "quantitative"},
            "color": {"field": "g", "type": "nominal", "legend": null}
          }
        },
        {
          "data": {"name": "notes"},
          "transform": [{"filter": "datum.p == 'B'"}],
          "mark": {"type": "text", "align": "left", "baseline": "middle"},
          "encoding": {"x": {"datum": -0.162}, "y": {"datum": 57.3}, "text": {"field": "pv"}}
        },
        {
          "data": {"name": "notes"},
          "transform": [{"filter": "datum.p == 'B'"}],
          "mark": {"type": "text", "align": "left", "baseline": "middle"},
          "encoding": {"x": {"datum": -0.162}, "y": {"datum": 51.9}, "text": {"field": "hr"}}
        },
        {
          "data": {"name": "notes"},
          "transform": [{"filter": "datum.p == 'B'"}],
          "mark": {"type": "text", "align": "left", "baseline": "middle", "font": "Liberation Sans", "fontWeight": "bold", "fontSize": 22},
          "encoding": {"x": {"datum": -1.077}, "y": {"datum": 76.5}, "text": {"field": "lab"}}
        },
        {
          "data": {"name": "notes"},
          "transform": [{"filter": "datum.p == 'B'"}],
          "mark": {"type": "text", "align": "left", "baseline": "middle"},
          "encoding": {"x": {"datum": -0.932}, "y": {"datum": 76.5}, "text": {"field": "ttl"}}
        }
      ]
    },
    {
      "width": 598, "height": 75.2,
      "data": {"name": "risk"},
      "transform": [{"filter": "datum.p == 'B'"}],
      "mark": {"type": "text", "baseline": "middle"},
      "encoding": {
        "x": {"field": "t", "type": "quantitative", "scale": {"domain": [0, 3.22], "nice": false, "zero": false}, "axis": null},
        "y": {"field": "g", "type": "nominal", "sort": ["No rehabilitation", "Rehabilitation"], "scale": {"type": "point", "padding": 1.047, "align": 0.2387}, "axis": {"title": null, "ticks": false, "domain": false, "labelPadding": 57}},
        "text": {"field": "n"}
      }
    },
    {
      "width": 598, "height": 336,
      "layer": [
        {
          "data": {"name": "curves"},
          "transform": [{"filter": "datum.p == 'C'"}],
          "mark": {"type": "line", "strokeWidth": 1.6},
          "encoding": {
            "x": {"field": "t", "type": "quantitative", "scale": {"domain": [0, 3.22], "nice": false, "zero": false}, "axis": {"values": [0, 1, 2, 3], "format": "d", "offset": 8, "tickSize": 10, "labelPadding": 8, "title": "Time, years", "titlePadding": 17, "titleX": 279}},
            "y": {"field": "v", "type": "quantitative", "scale": {"domain": [0, 70], "nice": false}, "axis": {"values": [0, 10, 20, 30, 40, 50, 60, 70], "format": "d", "offset": 40, "tickSize": 10, "labelPadding": 6, "title": "Cumulative incidence, %", "titlePadding": 104}},
            "color": {"field": "g", "type": "nominal", "scale": {"domain": ["No rehabilitation", "Rehabilitation"], "range": ["#3c4aa6", "#c8202e"]}, "legend": {"orient": "none", "legendX": 65, "legendY": 436, "direction": "horizontal", "title": null, "strokeColor": "black", "padding": 4, "symbolType": "M-9,0H51", "symbolSize": 4, "symbolStrokeWidth": 1.5, "labelOffset": 52, "labelFont": "Liberation Serif", "labelFontSize": 21, "labelColor": "black", "labelLimit": 300, "columnPadding": 11}},
            "strokeDash": {"field": "g", "type": "nominal", "scale": {"domain": ["No rehabilitation", "Rehabilitation"], "range": [[1, 0], [8, 5]]}, "legend": {"orient": "none", "legendX": 65, "legendY": 436, "direction": "horizontal", "title": null, "strokeColor": "black", "padding": 4, "symbolType": "M-9,0H51", "symbolSize": 4, "symbolStrokeWidth": 1.5, "labelOffset": 52, "labelFont": "Liberation Serif", "labelFontSize": 21, "labelColor": "black", "labelLimit": 300, "columnPadding": 11}},
            "detail": {"field": "c"}
          }
        },
        {
          "data": {"name": "curves"},
          "transform": [{"filter": "datum.p == 'C' && datum.c == 'main'"}],
          "mark": {"type": "tick", "orient": "vertical", "size": 10, "thickness": 1.4},
          "encoding": {
            "x": {"field": "t", "type": "quantitative"},
            "y": {"field": "v", "type": "quantitative"},
            "color": {"field": "g", "type": "nominal", "legend": null}
          }
        },
        {
          "data": {"name": "notes"},
          "transform": [{"filter": "datum.p == 'C'"}],
          "mark": {"type": "text", "align": "left", "baseline": "middle"},
          "encoding": {"x": {"datum": -0.162}, "y": {"datum": 57.3}, "text": {"field": "pv"}}
        },
        {
          "data": {"name": "notes"},
          "transform": [{"filter": "datum.p == 'C'"}],
          "mark": {"type": "text", "align": "left", "baseline": "middle"},
          "encoding": {"x": {"datum": -0.162}, "y": {"datum": 51.9}, "text": {"field": "hr"}}
        },
        {
          "data": {"name": "notes"},
          "transform": [{"filter": "datum.p == 'C'"}],
          "mark": {"type": "text", "align": "left", "baseline": "middle", "font": "Liberation Sans", "fontWeight": "bold", "fontSize": 22},
          "encoding": {"x": {"datum": -1.077}, "y": {"datum": 76.5}, "text": {"field": "lab"}}
        },
        {
          "data": {"name": "notes"},
          "transform": [{"filter": "datum.p == 'C'"}],
          "mark": {"type": "text", "align": "left", "baseline": "middle"},
          "encoding": {"x": {"datum": -0.932}, "y": {"datum": 76.5}, "text": {"field": "ttl"}}
        }
      ]
    },
    {
      "width": 598, "height": 75.2,
      "data": {"name": "risk"},
      "transform": [{"filter": "datum.p == 'C'"}],
      "mark": {"type": "text", "baseline": "middle"},
      "encoding": {
        "x": {"field": "t", "type": "quantitative", "scale": {"domain": [0, 3.22], "nice": false, "zero": false}, "axis": null},
        "y": {"field": "g", "type": "nominal", "sort": ["No rehabilitation", "Rehabilitation"], "scale": {"type": "point", "padding": 1.047, "align": 0.2387}, "axis": {"title": null, "ticks": false, "domain": false, "labelPadding": 57}},
        "text": {"field": "n"}
      }
    }
  ]
}
